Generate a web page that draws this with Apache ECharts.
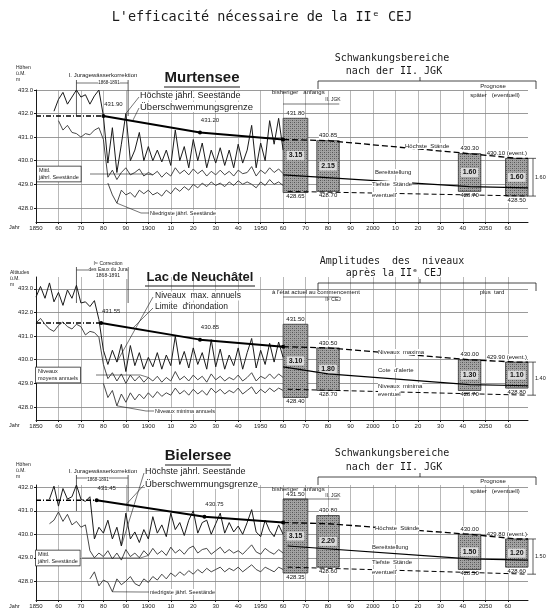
<!DOCTYPE html>
<html><head><meta charset="utf-8">
<script src="https://cdn.jsdelivr.net/npm/echarts@6/dist/echarts.min.js"></script>
<style>html,body{margin:0;padding:0;background:#fff}#c{width:548px;height:609px}</style>
</head><body><div id="c"></div>
<script>
// ---------- DATA ----------
const years = [1850,1852,1854,1856,1858,1860,1862,1864,1866,1868,1870,1872,1874,1876,1878,1880,1882,1884,1886,1888,1890,1892,1894,1896,1898,1900,1902,1904,1906,1908,1910,1912,1914,1916,1918,1920,1922,1924,1926,1928,1930,1932,1934,1936,1938,1940,1942,1944,1946,1948,1950,1952,1954,1956,1958,1960];
const xTickYears = [1850,1860,1870,1880,1890,1900,1910,1920,1930,1940,1950,1960,1970,1980,1990,2000,2010,2020,2030,2040,2050,2060];

// Murtensee
const murtenMax = [null,null,null,null,432.1,432.6,432.9,432.4,432.7,433.0,432.7,432.8,432.4,432.75,433.0,431.9,429.9,431.4,429.5,430.7,432.0,430.0,430.45,431.2,430.0,430.6,430.0,430.45,429.95,430.45,429.8,431.3,430.0,430.6,429.7,430.9,430.0,430.75,429.7,430.45,429.9,430.55,429.8,430.45,429.7,430.7,429.9,430.45,431.5,429.7,430.75,430.0,431.7,430.7,431.8,430.45];
const murtenMean = [null,null,null,null,null,431.7,431.3,431.5,431.2,431.15,431.0,431.15,431.1,431.3,431.4,430.9,429.3,429.6,429.2,429.5,429.7,429.4,429.5,429.65,429.35,429.5,429.4,429.55,429.3,429.5,429.35,429.7,429.45,429.6,429.4,429.65,429.45,429.6,429.35,429.55,429.4,429.6,429.4,429.55,429.35,429.6,429.45,429.5,429.75,429.35,429.6,429.45,429.7,429.5,429.65,429.45];
const murtenMin = [null,null,null,null,null,null,null,null,null,null,null,null,null,null,null,null,429.05,428.55,428.2,428.75,428.55,428.65,428.45,428.75,428.6,428.75,428.55,428.65,428.5,428.75,428.6,428.85,428.7,428.9,428.75,429.0,428.85,429.05,428.9,429.1,428.95,429.05,428.9,429.1,428.95,429.15,429.0,429.1,429.0,428.85,429.1,428.95,429.2,429.0,429.1,428.95];
const murtenFloodYears = [1850,1880,1923,1960];
const murtenFloodLevels = [431.90,431.90,431.20,430.90];
const murtenHighYears = [1960,1980,2043,2064,2069];
const murtenHighLevels = [430.90,430.85,430.30,430.10,430.10];
const murtenReadyYears = [1960,2043,2069];
const murtenReadyLevels = [429.40,428.90,428.85];
const murtenLowYears = [1962,2069];
const murtenLowLevels = [428.70,428.50];
const murtenBoxFrom = [1960,1975,2038,2059];
const murtenBoxTo = [1971,1985,2048,2069];
const murtenBoxLow = [428.65,428.70,428.70,428.50];
const murtenBoxHigh = [431.80,430.85,430.30,430.10];
const murtenBoxRange = ['3.15','2.15','1.60','1.60'];

// Lac de Neuchâtel
const neuchMax = [432.65,433.1,432.6,433.25,432.45,432.85,432.3,432.95,432.6,433.15,432.4,432.45,432.25,432.5,431.7,430.4,429.8,430.4,429.9,430.65,429.5,430.6,429.75,430.3,429.6,430.1,429.7,430.3,429.6,430.2,429.75,431.0,429.8,430.35,429.65,430.5,429.8,430.3,429.6,430.85,429.7,430.45,429.6,430.2,429.75,430.5,429.6,430.3,430.9,429.65,430.4,429.8,430.7,429.9,430.75,430.1];
const neuchMean = [431.55,431.75,431.5,431.3,431.2,431.45,431.6,431.4,431.3,431.5,431.4,431.05,431.2,431.15,430.95,429.8,429.2,429.45,429.1,429.4,429.0,429.35,429.1,429.3,429.05,429.25,429.1,429.3,429.05,429.25,429.1,429.5,429.15,429.3,429.1,429.35,429.15,429.3,429.05,429.4,429.15,429.3,429.1,429.25,429.15,429.35,429.1,429.25,429.45,429.1,429.3,429.2,429.4,429.2,429.4,429.25];
const neuchMin = [null,null,null,null,null,null,null,null,null,null,null,null,null,null,null,429.0,428.4,428.7,428.05,428.55,428.2,428.6,428.3,428.55,428.35,428.6,428.4,428.65,428.45,428.6,428.5,428.8,428.55,428.7,428.5,428.75,428.55,428.7,428.5,428.8,428.6,428.75,428.55,428.7,428.6,428.8,428.55,428.7,428.85,428.55,428.75,428.6,428.8,428.65,428.8,428.7];
const neuchFloodYears = [1850,1879,1923,1960];
const neuchFloodLevels = [431.55,431.55,430.85,430.55];
const neuchHighYears = [1960,1980,2043,2064,2069];
const neuchHighLevels = [430.55,430.50,430.00,429.90,429.90];
const neuchReadyYears = [1960,1980,2043,2069];
const neuchReadyLevels = [429.70,429.40,428.95,428.90];
const neuchLowYears = [1962,2069];
const neuchLowLevels = [428.75,428.50];
const neuchBoxFrom = [1960,1975,2038,2059];
const neuchBoxTo = [1971,1985,2048,2069];
const neuchBoxLow = [428.40,428.70,428.70,428.80];
const neuchBoxHigh = [431.50,430.50,430.00,429.90];
const neuchBoxRange = ['3.10','1.80','1.30','1.10'];

// Bielersee
const bielMax = [null,null,null,431.5,432.05,431.2,431.95,431.5,431.6,432.1,431.5,431.4,431.6,429.8,430.3,430.05,430.6,429.8,430.3,429.5,430.9,429.8,430.1,429.65,430.2,429.8,430.75,430.05,430.4,429.9,430.9,430.2,430.5,429.95,430.6,431.0,430.05,430.5,430.6,430.0,430.45,430.9,430.05,430.5,430.1,430.35,430.0,430.5,431.05,430.1,429.9,430.6,430.15,429.9,430.4,430.0];
const bielMean = [null,null,null,430.45,430.6,430.95,430.55,430.85,430.4,430.55,430.3,430.4,429.3,429.0,429.2,429.05,429.3,428.95,429.2,428.9,429.35,429.05,429.2,429.0,429.3,429.1,429.4,429.15,429.3,429.1,429.45,429.2,429.35,429.15,429.4,429.5,429.2,429.35,429.4,429.15,429.3,429.45,429.2,429.35,429.2,429.3,429.15,429.35,429.55,429.25,429.15,429.4,429.25,429.15,429.35,429.2];
const bielMin = [null,null,null,null,null,null,null,null,null,null,null,null,428.1,428.4,427.8,428.05,427.95,427.55,428.1,427.85,428.0,428.2,427.9,427.8,428.1,427.95,428.2,428.05,428.3,428.1,428.35,428.2,428.4,428.25,428.45,428.3,428.5,428.35,428.55,428.4,428.5,428.6,428.4,428.55,428.45,428.6,428.4,428.55,428.7,428.5,428.4,428.6,428.5,428.4,428.6,428.5];
const bielFloodYears = [1850,1877,1925,1960];
const bielFloodLevels = [431.45,431.45,430.75,430.50];
const bielHighYears = [1960,1980,2043,2064,2069];
const bielHighLevels = [430.50,430.45,430.00,429.80,429.80];
const bielReadyYears = [1962,2043,2069];
const bielReadyLevels = [429.50,428.95,428.90];
const bielLowYears = [1962,2069];
const bielLowLevels = [428.60,428.30];
const bielBoxFrom = [1960,1975,2038,2059];
const bielBoxTo = [1971,1985,2048,2069];
const bielBoxLow = [428.35,428.60,428.50,428.60];
const bielBoxHigh = [431.50,430.80,430.00,429.80];
const bielBoxRange = ['3.15','2.20','1.50','1.20'];

const yRanges = [[427.4,433.0],[427.45,433.5],[427.2,432.1]];
const yTickValues = [[428,429,430,431,432,433],[428,429,430,431,432,433],[428,429,430,431,432]];

// leader targets (year on the series the label points to)
const leaderMaxYear = [1890, 1886, 1888];
const leaderFloodYear = [1893, 1893, 1890];
const leaderMeanYear = [1902, 1900, 1900];
const leaderMinYear = [1886, 1886, 1884];

// ---------- BUILD ----------
const lakes = [
  {max:murtenMax, mean:murtenMean, min:murtenMin, fy:murtenFloodYears, fl:murtenFloodLevels, hy:murtenHighYears, hl:murtenHighLevels, ry:murtenReadyYears, rl:murtenReadyLevels, ly:murtenLowYears, ll:murtenLowLevels, bf:murtenBoxFrom, bt:murtenBoxTo, blo:murtenBoxLow, bhi:murtenBoxHigh, br:murtenBoxRange},
  {max:neuchMax, mean:neuchMean, min:neuchMin, fy:neuchFloodYears, fl:neuchFloodLevels, hy:neuchHighYears, hl:neuchHighLevels, ry:neuchReadyYears, rl:neuchReadyLevels, ly:neuchLowYears, ll:neuchLowLevels, bf:neuchBoxFrom, bt:neuchBoxTo, blo:neuchBoxLow, bhi:neuchBoxHigh, br:neuchBoxRange},
  {max:bielMax, mean:bielMean, min:bielMin, fy:bielFloodYears, fl:bielFloodLevels, hy:bielHighYears, hl:bielHighLevels, ry:bielReadyYears, rl:bielReadyLevels, ly:bielLowYears, ll:bielLowLevels, bf:bielBoxFrom, bt:bielBoxTo, blo:bielBoxLow, bhi:bielBoxHigh, br:bielBoxRange}
];
const FONT = '"Liberation Sans", Arial, sans-serif';
const MONO = '"DejaVu Sans Mono", monospace';
const INK = '#1a1a1a';

const patCanvas = document.createElement('canvas');
patCanvas.width = 4; patCanvas.height = 4;
(function(){const g = patCanvas.getContext('2d'); g.fillStyle = '#a3a3a3'; g.fillRect(0,0,4,4); g.fillStyle = '#555'; g.fillRect(0,0,1,1); g.fillRect(2,2,1,1); g.fillStyle='#7a7a7a'; g.fillRect(2,0,1,1); g.fillRect(0,2,1,1);})();
const pattern = {image: patCanvas, repeat: 'repeat'};

const gridPos = [{left:36, top:90, width:492, height:132},{left:36, top:277, width:492, height:143},{left:36, top:485, width:492, height:116}];
const pairs = (xs, vs) => xs.map((x,i)=>[x, vs[i]]);

const grids = [], xAxes = [], yAxes = [], series = [];
lakes.forEach((L,k)=>{
  grids.push(Object.assign({containLabel:false}, gridPos[k]));
  xAxes.push({type:'value', gridIndex:k, min:1850, max:2069,
    axisLine:{lineStyle:{color:INK, width:1}},
    axisTick:{customValues:xTickYears, length:2, lineStyle:{color:INK}},
    axisLabel:{customValues:xTickYears, fontSize:6, margin:3, color:INK, fontFamily:FONT,
      formatter:v=> (v%50===0 ? String(v) : String(v%100).padStart(2,'0'))},
    splitLine:{show:true, lineStyle:{color:'#8a8a8a', width:0.6}}});
  yAxes.push({type:'value', gridIndex:k, min:yRanges[k][0], max:yRanges[k][1],
    axisLine:{show:true, lineStyle:{color:INK, width:1}},
    axisTick:{customValues:yTickValues[k], length:2, lineStyle:{color:INK}},
    axisLabel:{customValues:yTickValues[k], fontSize:6, margin:3, color:INK, fontFamily:FONT, formatter:v=>v.toFixed(1)},
    splitLine:{show:true, lineStyle:{color:'#6f6f6f', width:0.7}}});
  const base = {xAxisIndex:k, yAxisIndex:k, type:'line', showSymbol:false, silent:true, animation:false};
  series.push(Object.assign({}, base, {name:'max'+k, data:pairs(years, L.max), lineStyle:{color:INK, width:1}}));
  series.push(Object.assign({}, base, {name:'mean'+k, data:pairs(years, L.mean), lineStyle:{color:'#333', width:0.9}}));
  series.push(Object.assign({}, base, {name:'min'+k, data:pairs(years, L.min), lineStyle:{color:'#333', width:0.9}}));
  series.push(Object.assign({}, base, {name:'floodPre'+k, data:pairs(L.fy.slice(0,2), L.fl.slice(0,2)), lineStyle:{color:'#000', width:1.5, type:[5,2,1,2]}}));
  series.push(Object.assign({}, base, {name:'flood'+k, data:pairs(L.fy.slice(1), L.fl.slice(1)), showSymbol:true, symbol:'circle', symbolSize:4, itemStyle:{color:'#000'}, lineStyle:{color:'#000', width:2},
    label:{show:true, fontSize:6, color:INK, fontFamily:FONT, position:'top', offset:[10,-2], formatter:p=> p.dataIndex<2 ? p.value[1].toFixed(2) : ''}}));
  series.push(Object.assign({}, base, {name:'high'+k, data:pairs(L.hy, L.hl), lineStyle:{color:'#000', width:1.3, type:[6,3]}}));
  series.push(Object.assign({}, base, {name:'ready'+k, data:pairs(L.ry, L.rl), lineStyle:{color:'#000', width:1.2}}));
  series.push(Object.assign({}, base, {name:'low'+k, data:pairs(L.ly, L.ll), lineStyle:{color:'#000', width:1, type:[5,3]}}));
  series.push({type:'custom', xAxisIndex:k, yAxisIndex:k, z:1, silent:true, animation:false,
    data: L.bf.map((f,i)=>[f, L.bt[i], L.blo[i], L.bhi[i]]),
    encode:{x:[0,1], y:[2,3]},
    renderItem:(params, api)=>{
      const i = params.dataIndex;
      const a = api.coord([api.value(0), api.value(3)]);
      const b = api.coord([api.value(1), api.value(2)]);
      const x=a[0], y=a[1], w=b[0]-a[0], h=b[1]-a[1], cx=x+w/2;
      const top = L.bhi[i].toFixed(2) + (i===3 ? ' (event.)' : '');
      return {type:'group', children:[
        {type:'rect', shape:{x:x, y:y, width:w, height:h}, style:{fill:pattern, stroke:'#333', lineWidth:0.8}},
        {type:'text', style:{text:L.br[i], x:cx, y:y+h/2, align:'center', verticalAlign:'middle', font:'bold 7px '+FONT, fill:'#111', backgroundColor:'rgba(225,225,225,0.9)', padding:[1,2]}},
        {type:'text', style:{text:top, x:(i===3? b[0]-1 : cx), y:y-2, align:(i===3?'right':'center'), verticalAlign:'bottom', font:'6px '+FONT, fill:'#111', backgroundColor:'#fff'}},
        {type:'text', style:{text:L.blo[i].toFixed(2), x:cx, y:y+h+1, align:'center', verticalAlign:'top', font:'6px '+FONT, fill:'#111', backgroundColor:'#fff'}}
      ]};
    }});
});

const chart = echarts.init(document.getElementById('c'));
chart.setOption({animation:false, backgroundColor:'#fff', grid:grids, xAxis:xAxes, yAxis:yAxes, series:series});

// ---------- TEXT / ANNOTATIONS ----------
function T(text, x, y, o){
  o = o || {};
  return {type:'text', silent:true, z:50, style:{text:text, x:x, y:y, font:(o.font||'6px '+FONT), fill:INK,
    align:o.align||'left', textAlign:o.align||'left', verticalAlign:'middle', textVerticalAlign:'middle',
    lineHeight:o.lh, backgroundColor:o.bg, borderColor:o.border, borderWidth:o.border?0.7:0, padding:o.pad}};
}
function Ln(pts, w, dash){ return {type:'polyline', silent:true, z:40, shape:{points:pts}, style:{stroke:INK, lineWidth:w||0.8, fill:null, lineDash:dash||null}}; }
function valAt(arr, yr){ return arr[years.indexOf(yr)]; }
function floodAt(L, yr){ for (let i=1;i<L.fy.length;i++){ if (yr<=L.fy[i]) { const t=(yr-L.fy[i-1])/(L.fy[i]-L.fy[i-1]); return L.fl[i-1]+t*(L.fl[i]-L.fl[i-1]); } } return L.fl[L.fl.length-1]; }

const g = [];
g.push(T("L'efficacité nécessaire de la IIᵉ CEJ", 262, 17, {font:'13.5px '+MONO, align:'center'}));

const headerY = [[58,71],[261,273],[453,467]];
const heads = [['Schwankungsbereiche','nach der II. JGK'],['Amplitudes  des  niveaux','après la IIᵉ CEJ'],['Schwankungsbereiche','nach der II. JGK']];
const titles = ['Murtensee','Lac de Neuchâtel','Bielersee'];
const titleX = [202, 200, 198];
const titleY = [78, 277, 456];
const titleFont = ['bold 15px '+FONT,'bold 13px '+FONT,'bold 15px '+FONT];
// label anchor points (pixel) for leader lines
const maxLabelAnchor = [[139,97],[153,297],[144,473]];
const floodLabelAnchor = [[139,108],[153,308],[144,485]];
const meanLabelAnchor = [[90,174],[96,375],[82,558]];
const minLabelAnchor = [[149,213],[154,411],[149,592]];
lakes.forEach((L,k)=>{
  const gp = gridPos[k];
  const top = gp.top, bottom = gp.top+gp.height, right = gp.left+gp.width;
  g.push(T(heads[k][0], 392, headerY[k][0], {font:'10px '+MONO, align:'center'}));
  g.push(T(heads[k][1], 394, headerY[k][1], {font:'10px '+MONO, align:'center'}));
  const by = headerY[k][1] + 10;
  g.push(Ln([[318,by+8],[318,by],[536,by],[536,by+8]], 0.8));
  g.push(Ln([[420,by],[420,by-4]], 0.8));
  g.push(T(titles[k], titleX[k], titleY[k], {font:titleFont[k], align:'center'}));
  const tw = k===1 ? 110 : (k===0 ? 76 : 66);
  g.push(Ln([[titleX[k]-tw/2, titleY[k]+9],[titleX[k]+tw/2, titleY[k]+9]], 1.2));
  g.push(T('Jahr', 9, bottom+5, {font:'5.5px '+FONT}));
  // correction period bracket
  const p1 = chart.convertToPixel({gridIndex:k}, [1868, yRanges[k][1]]);
  const p2 = chart.convertToPixel({gridIndex:k}, [1891, yRanges[k][1]]);
  g.push(Ln([[p1[0], top-10],[p1[0], top+26]], 0.7));
  g.push(Ln([[p2[0], top-10],[p2[0], top+26]], 0.7));
  g.push(Ln([[p1[0], top-7],[p2[0], top-7]], 0.6));
  // bisheriger / anfangs arrows
  const a1 = chart.convertToPixel({gridIndex:k}, [1960, yRanges[k][1]]);
  const a2 = chart.convertToPixel({gridIndex:k}, [1985, yRanges[k][1]]);
  g.push(Ln([[a1[0], top+(k===1?20:14)],[a2[0], top+(k===1?20:14)]], 0.6));
  // right dimension
  const d1 = chart.convertToPixel({gridIndex:k}, [2069, L.bhi[3]]);
  const d2 = chart.convertToPixel({gridIndex:k}, [2069, L.ll[L.ll.length-1]]);
  g.push(Ln([[right, d1[1]],[right+8, d1[1]]], 0.7));
  g.push(Ln([[right, d2[1]],[right+8, d2[1]]], 0.7));
  g.push(Ln([[right+5, d1[1]],[right+5, d2[1]]], 0.7));
  g.push(T((L.bhi[3]-L.ll[L.ll.length-1]).toFixed(2), right+7, (d1[1]+d2[1])/2, {font:'5.5px '+FONT, bg:'#fff'}));
  // leader lines from labels to the curves
  const pm = chart.convertToPixel({gridIndex:k}, [leaderMaxYear[k], valAt(L.max, leaderMaxYear[k])]);
  g.push(Ln([maxLabelAnchor[k], pm], 0.6));
  const pf = chart.convertToPixel({gridIndex:k}, [leaderFloodYear[k], floodAt(L, leaderFloodYear[k])]);
  g.push(Ln([floodLabelAnchor[k], pf], 0.6));
  const pe = chart.convertToPixel({gridIndex:k}, [leaderMeanYear[k], valAt(L.mean, leaderMeanYear[k])]);
  g.push(Ln([meanLabelAnchor[k], [pe[0]-8, meanLabelAnchor[k][1]], pe], 0.6));
  const pn = chart.convertToPixel({gridIndex:k}, [leaderMinYear[k], valAt(L.min, leaderMinYear[k])]);
  g.push(Ln([minLabelAnchor[k], [minLabelAnchor[k][0]-8, minLabelAnchor[k][1]], pn], 0.6));
});

// Panel 1 texts
g.push(T('Höhen\nü.M.\nm', 16, 74, {font:'5px '+FONT, lh:6}));
g.push(T('I. Juragewässerkorrektion', 103, 75, {font:'6px '+FONT, align:'center'}));
g.push(T('1868-1891', 109, 83, {font:'4.5px '+FONT, align:'center', bg:'#fff'}));
g.push(T('Höchste jährl. Seestände', 140, 96, {font:'9px '+FONT, bg:'#fff'}));
g.push(T('Überschwemmungsgrenze', 140, 107, {font:'9.5px '+FONT, bg:'#fff'}));
g.push(T('Prognose', 493, 86, {font:'6px '+FONT, align:'center'}));
g.push(T('später   (eventuell)', 495, 95, {font:'6px '+FONT, align:'center'}));
g.push(T('bisheriger   anfangs', 272, 92, {font:'6px '+FONT}));
g.push(T('II. JGK', 333, 100, {font:'5px '+FONT, align:'center'}));
g.push(T('Mittl.\njährl. Seestände', 37, 174, {font:'5.5px '+FONT, lh:6.5, bg:'#fff', border:INK, pad:[1,2]}));
g.push(T('Niedrigste jährl. Seestände', 150, 213, {font:'5.5px '+FONT, bg:'#fff'}));
g.push(T('Höchste  Stände', 405, 146, {font:'6px '+FONT, bg:'#fff'}));
g.push(T('Bereitstellung', 375, 172, {font:'6px '+FONT, bg:'#fff'}));
g.push(T('Tiefste  Stände', 372, 184, {font:'6px '+FONT, bg:'#fff'}));
g.push(T('eventuell', 372, 195, {font:'6px '+FONT, bg:'#fff'}));

// Panel 2 texts
g.push(T('Altitudes\nü.M.\nm', 10, 279, {font:'5px '+FONT, lh:6}));
g.push(T('Iʳᵉ Correction\ndes Eaux du Jura\n1868-1891', 108, 270, {font:'5px '+FONT, lh:6, align:'center', bg:'#fff'}));
g.push(T('Niveaux  max. annuels', 155, 296, {font:'8.5px '+FONT, bg:'#fff'}));
g.push(T('Limite  d\'inondation', 155, 307, {font:'8.5px '+FONT, bg:'#fff'}));
g.push(T('à l\'état actuel au commencement', 272, 292, {font:'6px '+FONT}));
g.push(T('IIᵉ CEJ', 333, 300, {font:'5px '+FONT, align:'center'}));
g.push(T('plus  tard', 492, 292, {font:'6px '+FONT, align:'center'}));
g.push(T('Niveaux\nmoyens annuels', 36, 375, {font:'5.5px '+FONT, lh:6.5, bg:'#fff', border:INK, pad:[1,2]}));
g.push(T('Niveaux minima annuels', 155, 411, {font:'5.5px '+FONT, bg:'#fff'}));
g.push(T('Niveaux  maxima', 378, 352, {font:'6px '+FONT, bg:'#fff'}));
g.push(T('Cote  d\'alerte', 378, 370, {font:'6px '+FONT, bg:'#fff'}));
g.push(T('Niveaux  minima', 378, 386, {font:'6px '+FONT, bg:'#fff'}));
g.push(T('eventuel', 378, 394, {font:'6px '+FONT, bg:'#fff'}));

// Panel 3 texts
g.push(T('Höhen\nü.M.\nm', 16, 471, {font:'5px '+FONT, lh:6}));
g.push(T('I. Juragewässerkorrektion', 103, 471, {font:'6px '+FONT, align:'center'}));
g.push(T('1868-1891', 98, 480, {font:'4.5px '+FONT, align:'center', bg:'#fff'}));
g.push(T('Höchste jährl. Seestände', 145, 472, {font:'9px '+FONT, bg:'#fff'}));
g.push(T('Überschwemmungsgrenze', 145, 484, {font:'9.5px '+FONT, bg:'#fff'}));
g.push(T('Prognose', 493, 481, {font:'6px '+FONT, align:'center'}));
g.push(T('später   (eventuell)', 495, 491, {font:'6px '+FONT, align:'center'}));
g.push(T('bisheriger   anfangs', 272, 489, {font:'6px '+FONT}));
g.push(T('II. JGK', 333, 496, {font:'5px '+FONT, align:'center'}));
g.push(T('Mittl.\njährl. Seestände', 36, 558, {font:'5.5px '+FONT, lh:6.5, bg:'#fff', border:INK, pad:[1,2]}));
g.push(T('niedrigste jährl. Seestände', 150, 592, {font:'5.5px '+FONT, bg:'#fff'}));
g.push(T('Höchste  Stände', 375, 528, {font:'6px '+FONT, bg:'#fff'}));
g.push(T('Bereitstellung', 372, 547, {font:'6px '+FONT, bg:'#fff'}));
g.push(T('Tiefste  Stände', 372, 562, {font:'6px '+FONT, bg:'#fff'}));
g.push(T('eventuell', 372, 572, {font:'6px '+FONT, bg:'#fff'}));

chart.setOption({graphic:{elements:g}});
</script>
</body></html>
